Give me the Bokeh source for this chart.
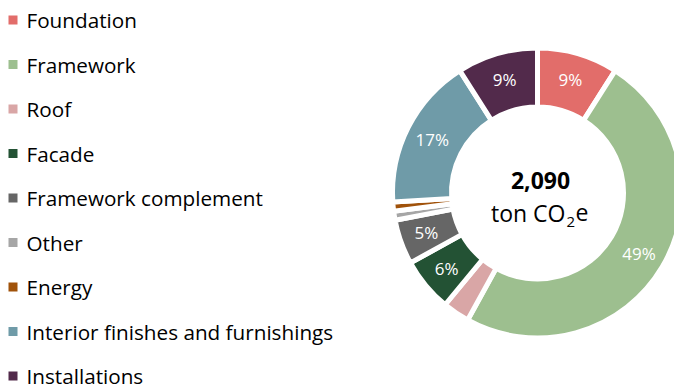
import math
from bokeh.plotting import figure
from bokeh.models import Range1d, ColumnDataSource
from bokeh.core.properties import value
from bokeh.embed import file_html
from bokeh.resources import INLINE

# ---- data ----
categories = ["Foundation", "Framework", "Roof", "Facade", "Framework complement",
              "Other", "Energy", "Interior finishes and furnishings", "Installations"]
shares = [9, 49, 3, 6, 5, 1, 1, 17, 9]
colors = ["#E26D6A", "#9DBF8F", "#D9A6A6", "#235234", "#666666",
          "#A6A6A6", "#A0520A", "#6F9BA8", "#522A4B"]
total_value = "2,090"
label_min = 5

W, H = 674, 390
FONT = "Open Sans"

def X(px):
    return px

def Y(py):
    return H - py

p = figure(width=W, height=H, output_backend="svg", toolbar_location=None,
           x_range=Range1d(0, W), y_range=Range1d(0, H), min_border=0)
p.axis.visible = False
p.grid.visible = False
p.outline_line_color = None
p.background_fill_color = "white"
p.border_fill_color = "white"

# ---- donut ----
cx, cy = X(537), Y(192.5)
r_in, r_out = 86, 145
tot = sum(shares)
starts, ends, cum = [], [], 0.0
for s in shares:
    a0 = math.pi / 2 - 2 * math.pi * cum / tot
    cum += s
    a1 = math.pi / 2 - 2 * math.pi * cum / tot
    starts.append(a1)
    ends.append(a0)

src = ColumnDataSource(dict(start=starts, end=ends, color=colors))
p.annular_wedge(x=cx, y=cy, inner_radius=r_in, outer_radius=r_out,
                start_angle="start", end_angle="end", fill_color="color",
                line_color="white", line_width=5, source=src)

# slice labels
lx, ly, lt = [], [], []
r_lab = 118
for s, a0, a1 in zip(shares, starts, ends):
    if s >= label_min:
        m = (a0 + a1) / 2
        lx.append(cx + r_lab * math.cos(m))
        ly.append(cy + r_lab * math.sin(m))
        lt.append(f"{s}%")
p.text(x=lx, y=ly, text=lt, text_color="white", text_font=value(FONT),
       text_font_size="17px", text_align="center", text_baseline="middle")

# center text
p.text(x=[X(540)], y=[Y(180)], text=[total_value], text_font=value(FONT),
       text_font_style="bold", text_font_size="23px", text_align="center",
       text_baseline="middle", text_color="black")
p.text(x=[X(565)], y=[Y(212)], text=["ton CO"], text_font=value(FONT),
       text_font_size="23px", text_align="right", text_baseline="middle", text_color="black")
p.text(x=[X(566)], y=[Y(221)], text=["2"], text_font=value(FONT),
       text_font_size="15px", text_align="left", text_baseline="middle", text_color="black")
p.text(x=[X(575)], y=[Y(212)], text=["e"], text_font=value(FONT),
       text_font_size="23px", text_align="left", text_baseline="middle", text_color="black")

# ---- legend ----
row0, step = 19.5, 44.5
leg_y = [Y(row0 + i * step) for i in range(len(categories))]
p.scatter(x=[X(12.5)] * len(categories), y=leg_y, marker="square", size=9,
          fill_color=colors, line_color=None)
p.text(x=[X(26)] * len(categories), y=leg_y, text=categories, text_font=value(FONT),
       text_font_size="20.7px", text_align="left", text_baseline="middle", text_color="black")

open("out.html", "w").write(file_html(p, INLINE))
